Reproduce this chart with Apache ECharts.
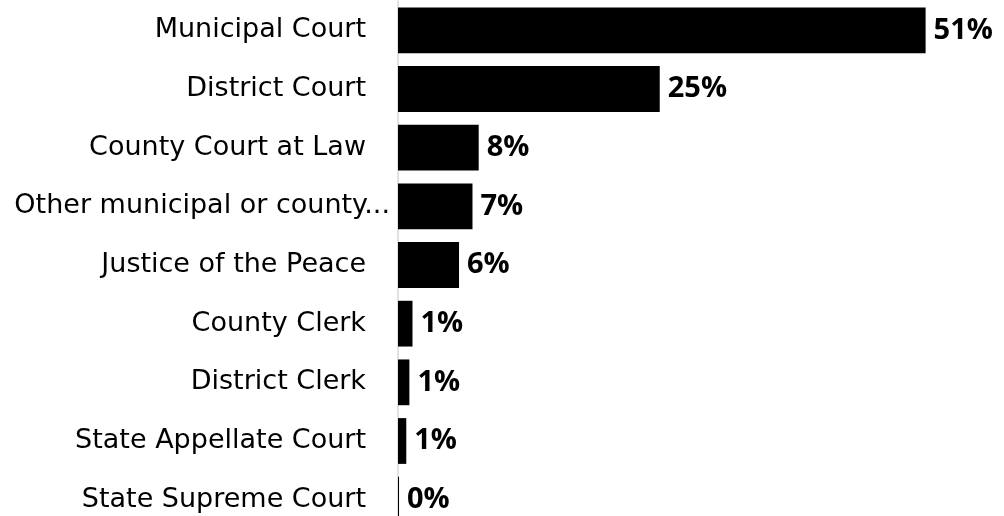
<!DOCTYPE html>
<html>
<head>
<meta charset="utf-8">
<script src="https://cdn.jsdelivr.net/npm/echarts@6/dist/echarts.min.js"></script>
<style>html,body{margin:0;padding:0;background:#fff}#c{width:1004px;height:516px}</style>
</head>
<body>
<div id="c"></div>
<script>
const categories = ["Municipal Court","District Court","County Court at Law","Other municipal or county...","Justice of the Peace","County Clerk","District Clerk","State Appellate Court","State Supreme Court"];
const values = [51.0, 25.3, 7.8, 7.2, 5.9, 1.4, 1.1, 0.8, 0.1];
const valueLabels = ["51%","25%","8%","7%","6%","1%","1%","1%","0%"];

const chart = echarts.init(document.getElementById('c'));
chart.setOption({
  animation: false,
  grid: { left: 398, right: 37, top: 1, bottom: -13, outerBoundsMode: 'none', containLabel: false },
  xAxis: { type: 'value', min: 0, max: 55, show: false },
  yAxis: {
    type: 'category', data: categories, inverse: true,
    axisLine: { show: true, lineStyle: { color: '#d9d9d9', width: 1.5 } },
    axisTick: { show: false },
    axisLabel: {
      margin: 8,
      fontFamily: 'DejaVu Sans', fontSize: 27, color: '#000',
      formatter: function (v) {
        return v.indexOf('...') >= 0 ? '{t|' + v + '}' : '{t|' + v + '}{s| }';
      },
      rich: {
        t: { fontFamily: 'DejaVu Sans', fontSize: 27, color: '#000' },
        s: { width: 24, fontSize: 27 }
      }
    }
  },
  series: [{
    type: 'bar', data: values, barCategoryGap: '22%',
    itemStyle: { color: '#000' },
    label: {
      show: true, position: 'right', distance: 8,
      fontFamily: 'Open Sans', fontWeight: 'bold', fontSize: 29, color: '#000',
      formatter: function (p) { return valueLabels[p.dataIndex]; }
    }
  }]
});
</script>
</body>
</html>
